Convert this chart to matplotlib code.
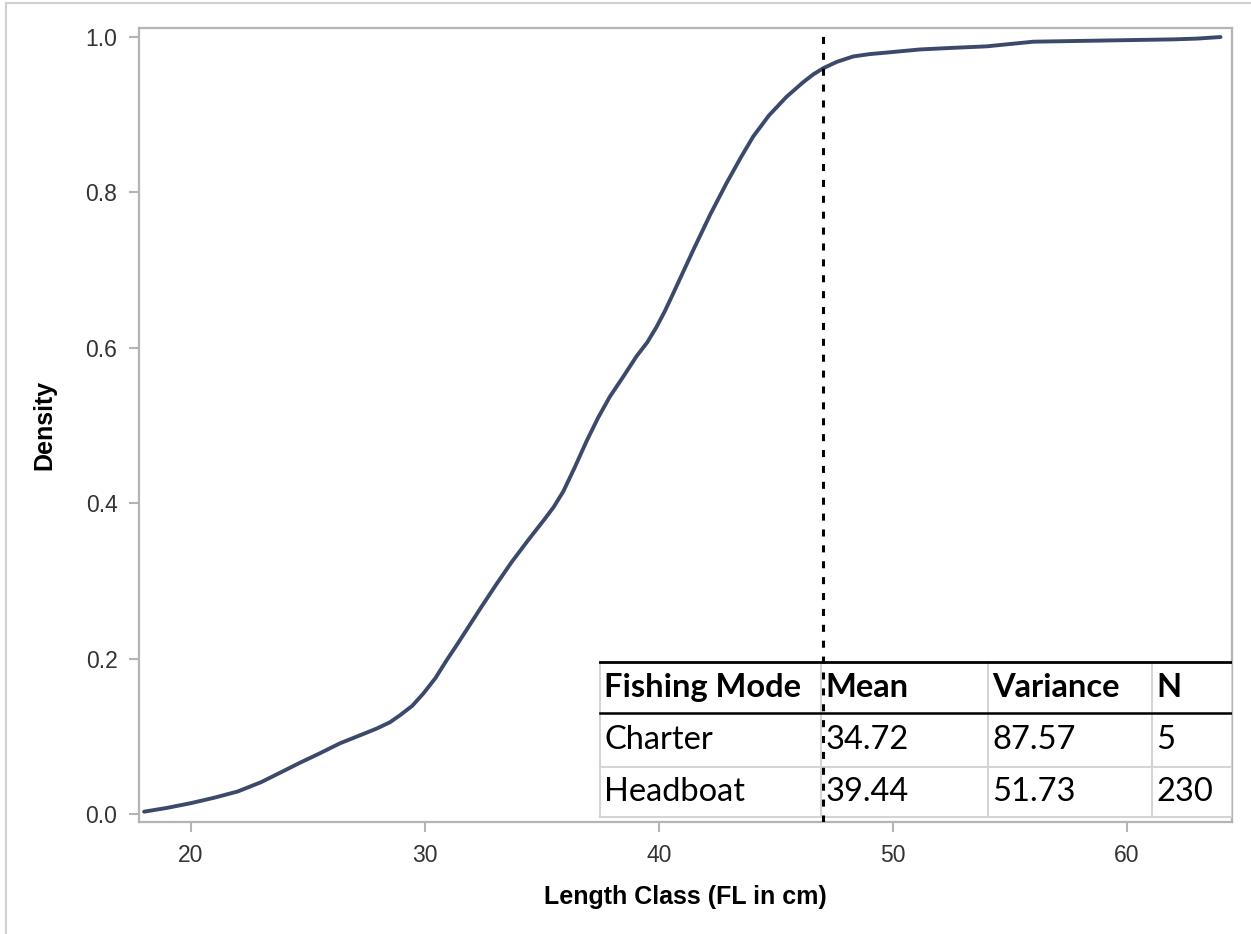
import numpy as np
import matplotlib
matplotlib.use('Agg')
from matplotlib import pyplot as plt
from matplotlib.lines import Line2D
from matplotlib.patches import Rectangle

# cumulative length distribution
length_cm = [18.0, 19.0, 20.0, 21.0, 22.0, 23.0, 24.0, 24.66, 25.5, 26.37,
             27.2, 27.94, 28.5, 28.93, 29.45, 29.93, 30.45, 30.93, 31.35,
             31.78, 32.4, 33.06, 33.7, 34.4, 35.1, 35.5, 35.91, 36.4, 36.91,
             37.4, 37.9, 38.5, 39.04, 39.5, 39.9, 40.25, 40.61, 41.47, 42.2,
             42.89, 43.5, 44.03, 44.7, 45.45, 46.17, 46.6, 47.03, 47.6, 48.3,
             49.0, 49.73, 51.15, 52.5, 54.0, 55.0, 56.0, 58.0, 60.0, 62.0,
             63.0, 64.0]
cum_density = [0.003, 0.008, 0.014, 0.021, 0.029, 0.041, 0.056, 0.066, 0.078,
               0.091, 0.101, 0.110, 0.118, 0.127, 0.139, 0.155, 0.175, 0.198,
               0.217, 0.237, 0.266, 0.296, 0.324, 0.352, 0.379, 0.395, 0.415,
               0.446, 0.480, 0.510, 0.537, 0.564, 0.589, 0.607, 0.627, 0.647,
               0.670, 0.726, 0.772, 0.812, 0.845, 0.872, 0.899, 0.923, 0.942,
               0.952, 0.960, 0.968, 0.975, 0.978, 0.980, 0.984, 0.986, 0.988,
               0.991, 0.994, 0.995, 0.996, 0.997, 0.998, 1.000]
cutoff = 47

xticks = [20, 30, 40, 50, 60]
yticks = [0.0, 0.2, 0.4, 0.6, 0.8, 1.0]

# summary table
tbl_header = ['Fishing Mode', 'Mean', 'Variance', 'N']
tbl_rows = [['Charter', '34.72', '87.57', '5'],
            ['Headboat', '39.44', '51.73', '230']]

line_col = '#3b4a6b'
spine_col = '#b4b4b4'
grid_col = '#d4d4d4'

plt.rcParams['font.family'] = ['Liberation Sans', 'DejaVu Sans']

fig = plt.figure(figsize=(12.51, 9.34), dpi=100)
ax = fig.add_axes([0.1111, 0.1199, 0.8737, 0.8501])

ax.plot(length_cm, cum_density, color=line_col, lw=2.8, zorder=3,
        solid_capstyle='round', solid_joinstyle='round')
ax.axvline(cutoff, color='black', lw=2.2, linestyle=(0, (2.3, 2.9)), zorder=6)

ax.set_xlim(17.78, 64.49)
ax.set_ylim(-0.0103, 1.0116)
ax.set_xticks(xticks)
ax.set_yticks(yticks)
ax.set_xticklabels([str(v) for v in xticks])
ax.set_yticklabels(['%.1f' % v for v in yticks])

for s in ax.spines.values():
    s.set_color(spine_col)
    s.set_linewidth(1.6)
ax.tick_params(direction='out', length=7, width=1.5, color=spine_col,
               labelcolor='#333333', labelsize=16.5, pad=8.5)

ax.set_xlabel('Length Class (FL in cm)', fontsize=18, fontweight='bold',
              labelpad=13)
ax.set_ylabel('Density', fontsize=18, fontweight='bold', labelpad=21)

# table drawn in axes fractions
col_edges = [0.4218, 0.624, 0.7768, 0.9268, 1.0]
row_edges = [0.2015, 0.1373, 0.0693, 0.0063]
tfont = ['Lato', 'DejaVu Sans']
tr = ax.transAxes

ax.add_patch(Rectangle((col_edges[0], row_edges[-1]),
                       col_edges[-1] - col_edges[0],
                       row_edges[0] - row_edges[-1],
                       transform=tr, facecolor='white', edgecolor='none',
                       zorder=4))

for x in col_edges:
    ax.add_line(Line2D([x, x], [row_edges[-1], row_edges[0]], transform=tr,
                       color=grid_col, lw=1.5, zorder=5))
ax.add_line(Line2D([col_edges[0], 1], [row_edges[2], row_edges[2]],
                   transform=tr, color=grid_col, lw=1.5, zorder=5))
ax.add_line(Line2D([col_edges[0], 1], [row_edges[3], row_edges[3]],
                   transform=tr, color=grid_col, lw=1.5, zorder=5))
ax.add_line(Line2D([col_edges[0], 1], [row_edges[0], row_edges[0]],
                   transform=tr, color='black', lw=2.0, zorder=5))
ax.add_line(Line2D([col_edges[0], 1], [row_edges[1], row_edges[1]],
                   transform=tr, color='black', lw=1.8, zorder=5))

pad = 0.004
rows = [tbl_header] + tbl_rows
for r, cells in enumerate(rows):
    yc = (row_edges[r] + row_edges[r + 1]) / 2
    for c, txt in enumerate(cells):
        ax.text(col_edges[c] + pad, yc, txt, transform=tr, ha='left',
                va='center', fontsize=23.5, family=tfont,
                fontweight='bold' if r == 0 else 'normal',
                color='black', zorder=7)

# thin frame at top and left of the figure
fig.add_artist(Line2D([0.0048, 0.0048], [0, 0.9968], transform=fig.transFigure,
                      color='#d0d0d0', lw=1.5))
fig.add_artist(Line2D([0.0048, 1], [0.9968, 0.9968], transform=fig.transFigure,
                      color='#d0d0d0', lw=1.5))

fig.savefig('out.png', dpi=100)
